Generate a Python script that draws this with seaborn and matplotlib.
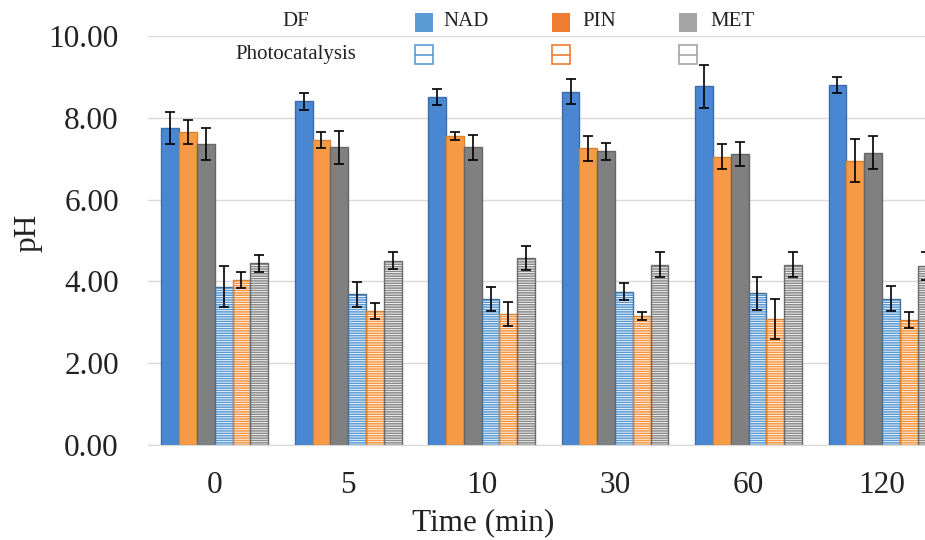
import matplotlib
matplotlib.use("Agg")
import matplotlib.pyplot as plt
import seaborn as sns
import pandas as pd
import numpy as np
from matplotlib.patches import Rectangle
from matplotlib.lines import Line2D
from matplotlib.container import BarContainer

# ---------------- data ----------------
times = ['0', '5', '10', '30', '60', '120']
series = ['DF NAD', 'DF PIN', 'DF MET', 'PC NAD', 'PC PIN', 'PC MET']

df_nad = [7.75, 8.40, 8.51, 8.64, 8.77, 8.80]
df_pin = [7.65, 7.45, 7.55, 7.25, 7.05, 6.95]
df_met = [7.36, 7.28, 7.28, 7.18, 7.12, 7.15]
pc_nad = [3.87, 3.68, 3.57, 3.75, 3.71, 3.58]
pc_pin = [4.04, 3.27, 3.21, 3.15, 3.08, 3.05]
pc_met = [4.44, 4.51, 4.57, 4.41, 4.41, 4.38]

df_nad_err = [0.40, 0.20, 0.20, 0.30, 0.52, 0.20]
df_pin_err = [0.30, 0.20, 0.10, 0.30, 0.30, 0.52]
df_met_err = [0.40, 0.40, 0.30, 0.20, 0.30, 0.40]
pc_nad_err = [0.50, 0.30, 0.30, 0.20, 0.40, 0.30]
pc_pin_err = [0.20, 0.19, 0.29, 0.10, 0.50, 0.20]
pc_met_err = [0.20, 0.21, 0.29, 0.30, 0.30, 0.35]

values = [df_nad, df_pin, df_met, pc_nad, pc_pin, pc_met]
errors = [df_nad_err, df_pin_err, df_met_err, pc_nad_err, pc_pin_err, pc_met_err]

rows = []
for s, vals in zip(series, values):
    for t, v in zip(times, vals):
        rows.append({'Time': t, 'Series': s, 'pH': v})
data = pd.DataFrame(rows)

# ---------------- style ----------------
sns.set_style('white')
plt.rcParams['font.family'] = ['Liberation Serif', 'DejaVu Serif']
plt.rcParams['hatch.linewidth'] = 0.6

fill_cols = ['#4A87D2', '#F79A46', '#808080', '#5B9BD5', '#F7963F', '#8A8A8A']
edge_cols = ['#3B6DAE', '#D9822F', '#666666', '#41719C', '#D9822F', '#6B6B6B']
legend_cols = ['#5B9BD5', '#ED7D31', '#A5A5A5']

fig = plt.figure(figsize=(9.25, 5.4), dpi=100)
ax = fig.add_axes([148 / 925, 1 - 445 / 540, 800.7 / 925, 409 / 540])

sns.barplot(data=data, x='Time', y='pH', hue='Series', order=times,
            hue_order=series, palette=fill_cols, errorbar=None,
            width=0.8, dodge=True, legend=False, ax=ax, saturation=1)

bar_conts = [c for c in ax.containers if isinstance(c, BarContainer)]
for i, cont in enumerate(bar_conts):
    xs, hs = [], []
    for bar in cont.patches:
        if bar is None:
            continue
        xs.append(bar.get_x() + bar.get_width() / 2)
        hs.append(bar.get_height())
        if i >= 3:
            bar.set_facecolor(fill_cols[i])
            bar.set_edgecolor('white')
            bar.set_hatch('-------')
            bar.set_linewidth(0)
            outline = Rectangle((bar.get_x(), 0), bar.get_width(), bar.get_height(),
                                fill=False, edgecolor=edge_cols[i], linewidth=1.0,
                                zorder=bar.get_zorder() + 0.1)
            ax.add_patch(outline)
        else:
            bar.set_edgecolor(edge_cols[i])
            bar.set_linewidth(1.0)
    ax.errorbar(xs, hs, yerr=errors[i], fmt='none', ecolor='black',
                elinewidth=1.2, capsize=3.5, capthick=1.2, zorder=5)

ax.set_xlim(-0.5, 5.5)
ax.set_ylim(0, 10)
ax.set_yticks(np.arange(0, 10.1, 2))
ax.set_yticklabels([f'{v:.2f}' for v in np.arange(0, 10.1, 2)])
ax.yaxis.grid(True, color='#D9D9D9', linewidth=1.0)
ax.set_axisbelow(True)
for sp in ['top', 'right', 'left']:
    ax.spines[sp].set_visible(False)
ax.spines['bottom'].set_color('#D9D9D9')
ax.tick_params(axis='y', length=0, pad=21, labelsize=22.5, colors='#222222')
ax.tick_params(axis='x', length=0, pad=19, labelsize=22.5, colors='#222222')

ax.set_xlabel('Time (min)', fontsize=22.5, color='#222222', va='top')
ax.xaxis.set_label_coords((483.5 - 148) / 800.7, (445 - 508) / 409)
ax.set_ylabel('pH', fontsize=22.5, color='#222222')
ax.yaxis.label.set_va('center')
ax.yaxis.set_label_coords((28 - 148) / 800.7, (445 - 233) / 409)

# ---------------- legend (table style) ----------------
W, H = 925.0, 540.0
fig.text(296 / W, 1 - 22 / H, 'DF', fontsize=15, ha='center', va='center', color='#222222')
fig.text(296 / W, 1 - 54 / H, 'Photocatalysis', fontsize=15, ha='center', va='center', color='#222222')
names = ['NAD', 'PIN', 'MET']
px = [415, 552, 679]
tx = [443, 582, 710]
for k in range(3):
    fig.patches.append(Rectangle((px[k] / W, 1 - 32 / H), 18 / W, 19 / H,
                                 transform=fig.transFigure, facecolor=legend_cols[k],
                                 edgecolor='none', figure=fig))
    fig.text(tx[k] / W, 1 - 22 / H, names[k], fontsize=15, ha='left', va='center', color='#222222')
    fig.patches.append(Rectangle((px[k] / W, 1 - 64 / H), 18 / W, 19 / H,
                                 transform=fig.transFigure, facecolor='white',
                                 edgecolor=legend_cols[k], linewidth=1.2, figure=fig))
    fig.lines.append(Line2D([px[k] / W, (px[k] + 18) / W], [1 - 54.5 / H, 1 - 54.5 / H],
                            transform=fig.transFigure, color=legend_cols[k], linewidth=1.2,
                            figure=fig))

fig.savefig('out.png', dpi=100)
